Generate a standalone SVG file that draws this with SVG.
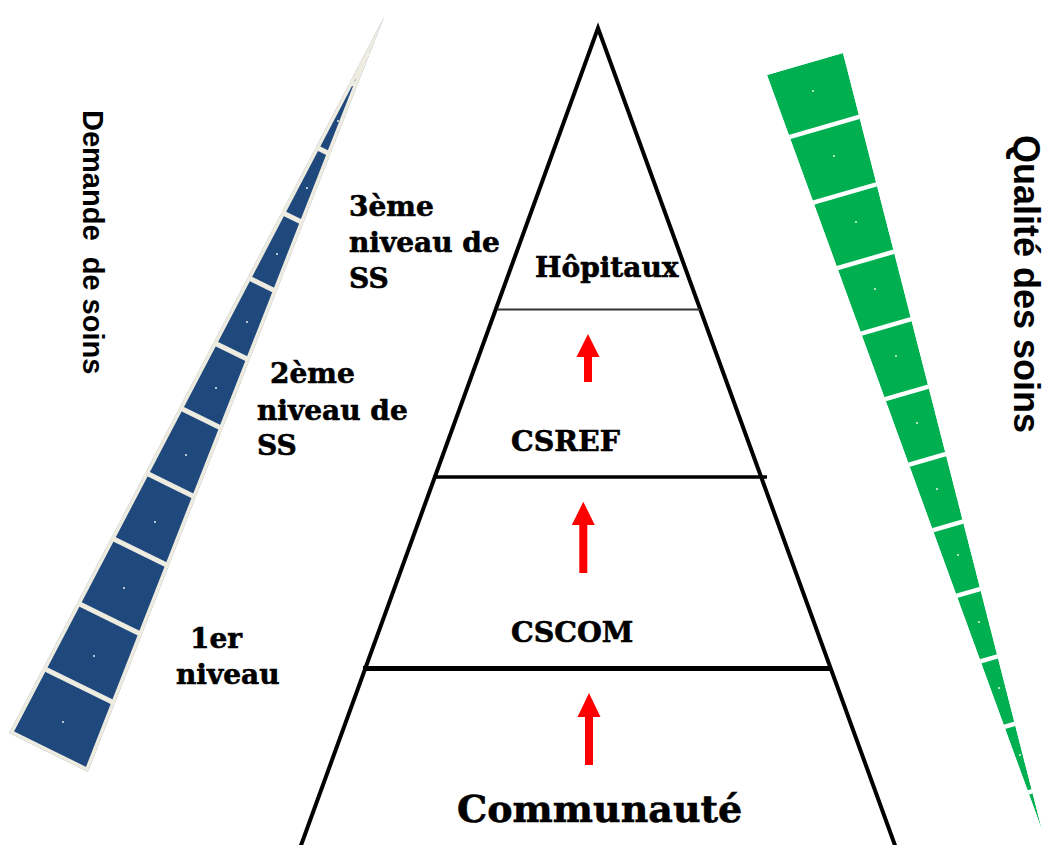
<svg xmlns="http://www.w3.org/2000/svg" width="1046" height="845" viewBox="0 0 1046 845">
<style>
.lbl{font-family:"DejaVu Serif","Liberation Serif",serif;font-weight:bold;fill:#000;stroke:#000;stroke-width:0.6}
.side{font-family:"Liberation Sans",Arial,sans-serif;font-weight:bold;fill:#000;white-space:pre}
.sepB{stroke:#EEECE1;stroke-width:5}
.sepG{stroke:#FFFFFF;stroke-width:4.5}
.dot{fill:#FFFFFF}
.edge{fill:none;stroke:#000;stroke-width:4}
.arr{fill:#FF0000}
</style>
<defs>
<clipPath id="clipBlue"><polygon points="385,15 9,733 88,772"/></clipPath>
<clipPath id="clipGreen"><polygon points="767,75 843,53 1042,830"/></clipPath>
</defs>
<rect width="1046" height="845" fill="#FFFFFF"/>

<g id="demand-wedge" clip-path="url(#clipBlue)">
<polygon points="385,15 9,733 88,772" fill="#1F497D" stroke="#EEECE1" stroke-width="7.5" stroke-linejoin="round"/>
<line class="sepB" x1="342.7" y1="78.5" x2="448.6" y2="130.7"/>
<line class="sepB" x1="308.6" y1="143.6" x2="414.5" y2="195.8"/>
<line class="sepB" x1="274.5" y1="208.7" x2="380.4" y2="260.9"/>
<line class="sepB" x1="240.4" y1="273.8" x2="346.3" y2="326"/>
<line class="sepB" x1="206.3" y1="338.9" x2="312.2" y2="391.1"/>
<line class="sepB" x1="172.2" y1="404" x2="278.1" y2="456.2"/>
<line class="sepB" x1="138.2" y1="469.1" x2="244.1" y2="521.3"/>
<line class="sepB" x1="104.1" y1="534.2" x2="210" y2="586.4"/>
<line class="sepB" x1="70" y1="599.3" x2="175.9" y2="651.5"/>
<line class="sepB" x1="35.9" y1="664.4" x2="141.8" y2="716.6"/>
<circle class="dot" cx="368" cy="54" r="0.9"/>
<circle class="dot" cx="338" cy="121" r="0.9"/>
<circle class="dot" cx="307" cy="188" r="0.9"/>
<circle class="dot" cx="277" cy="254" r="0.9"/>
<circle class="dot" cx="247" cy="322" r="0.9"/>
<circle class="dot" cx="216" cy="388" r="0.9"/>
<circle class="dot" cx="186" cy="455" r="0.9"/>
<circle class="dot" cx="155" cy="522" r="0.9"/>
<circle class="dot" cx="124" cy="588" r="0.9"/>
<circle class="dot" cx="94" cy="656" r="0.9"/>
<circle class="dot" cx="63" cy="722" r="0.9"/>
</g>

<g id="quality-wedge" clip-path="url(#clipGreen)">
<polygon points="767,75 843,53 1042,830" fill="#00B050"/>
<line class="sepG" x1="784.9" y1="138.4" x2="885.8" y2="109.2"/>
<line class="sepG" x1="808.9" y1="203.9" x2="909.8" y2="174.7"/>
<line class="sepG" x1="832.9" y1="269.4" x2="933.8" y2="240.2"/>
<line class="sepG" x1="856.9" y1="334.9" x2="957.8" y2="305.7"/>
<line class="sepG" x1="880.9" y1="400.4" x2="981.8" y2="371.2"/>
<line class="sepG" x1="904.9" y1="465.9" x2="1005.8" y2="436.7"/>
<line class="sepG" x1="928.9" y1="531.4" x2="1029.8" y2="502.2"/>
<line class="sepG" x1="952.9" y1="596.9" x2="1053.8" y2="567.7"/>
<line class="sepG" x1="976.9" y1="662.4" x2="1077.8" y2="633.2"/>
<line class="sepG" x1="1000.9" y1="727.9" x2="1101.8" y2="698.7"/>
<line class="sepG" x1="1024.9" y1="793.4" x2="1125.8" y2="764.2"/>
<circle class="dot" cx="813" cy="91" r="0.9"/>
<circle class="dot" cx="834" cy="156" r="0.9"/>
<circle class="dot" cx="856" cy="222" r="0.9"/>
<circle class="dot" cx="875" cy="289" r="0.9"/>
<circle class="dot" cx="896" cy="356" r="0.9"/>
<circle class="dot" cx="917" cy="423" r="0.9"/>
<circle class="dot" cx="937" cy="489" r="0.9"/>
<circle class="dot" cx="958" cy="555" r="0.9"/>
<circle class="dot" cx="979" cy="622" r="0.9"/>
<circle class="dot" cx="999" cy="688" r="0.9"/>
<circle class="dot" cx="1020" cy="755" r="0.9"/>
</g>

<g id="pyramid">
<polyline class="edge" points="297.5,855 598,28 898.5,855" stroke-linejoin="miter" stroke-miterlimit="10"/>
<line x1="497" y1="309.5" x2="700" y2="309.5" stroke="#333333" stroke-width="2"/>
<line x1="433" y1="477" x2="767" y2="477" stroke="#000" stroke-width="3.5"/>
<line x1="363" y1="668.5" x2="830" y2="668.5" stroke="#000" stroke-width="5"/>
</g>

<g id="node-hopitaux"><text class="lbl" x="535" y="277" font-size="28">Hôpitaux</text></g>
<g id="node-csref"><text class="lbl" x="511" y="451" font-size="28.5">CSREF</text></g>
<g id="node-cscom"><text class="lbl" x="511" y="642" font-size="28.5">CSCOM</text></g>
<g id="node-communaute"><text class="lbl" x="457" y="822" font-size="38">Communauté</text></g>

<g id="label-niveau3">
<text class="lbl" x="349" y="216" font-size="28">3ème</text>
<text class="lbl" x="349" y="251.5" font-size="28">niveau de</text>
<text class="lbl" x="349" y="288" font-size="28">SS</text>
</g>
<g id="label-niveau2">
<text class="lbl" x="270" y="383" font-size="28">2ème</text>
<text class="lbl" x="257" y="420" font-size="28">niveau de</text>
<text class="lbl" x="257" y="455" font-size="28">SS</text>
</g>
<g id="label-niveau1">
<text class="lbl" x="190" y="648" font-size="28">1er</text>
<text class="lbl" x="176" y="684" font-size="28">niveau</text>
</g>

<g id="label-demande"><text class="side" font-size="29" transform="translate(83,110) rotate(90)">Demande  de soins</text></g>
<g id="label-qualite"><text class="side" font-size="36" transform="translate(1014,135) rotate(90)">Qualité des soins</text></g>

<g id="connectors">
<path class="arr" d="M588,334 L599.5,357 L592,357 L592,382 L584,382 L584,357 L576.5,357 Z"/>
<path class="arr" d="M583.3,501.7 L594.8,525 L587.3,525 L587.3,573 L579.3,573 L579.3,525 L571.8,525 Z"/>
<path class="arr" d="M589,693 L600.5,717 L593,717 L593,765 L585,765 L585,717 L577.5,717 Z"/>
</g>
</svg>
